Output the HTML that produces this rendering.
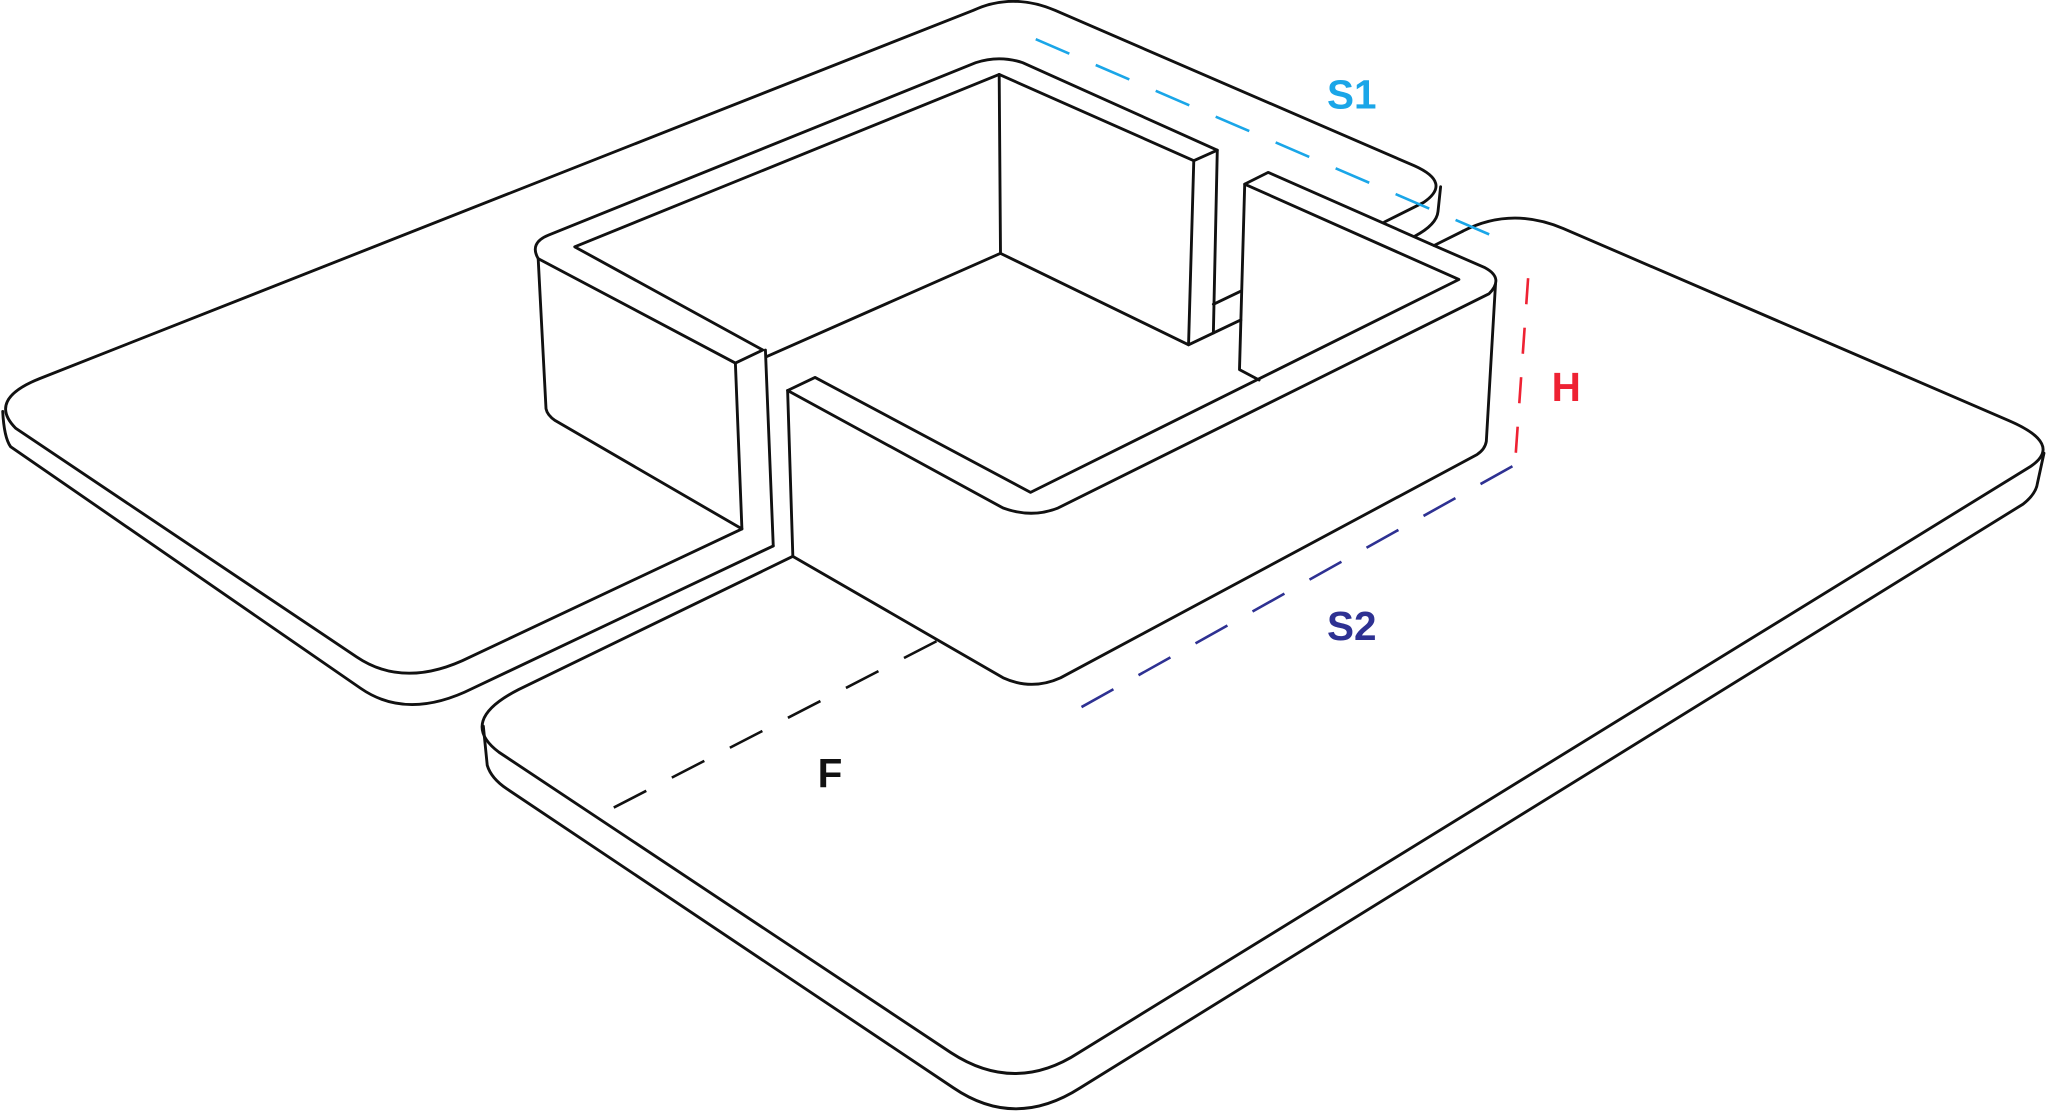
<!DOCTYPE html>
<html><head><meta charset="utf-8"><style>
html,body{margin:0;padding:0;background:#fff;width:2048px;height:1114px;overflow:hidden}
svg{display:block}
text{font-family:"Liberation Sans",sans-serif;font-weight:bold;font-size:31px}
</style></head><body>
<svg width="2048" height="1114" viewBox="0 0 1568 853" xmlns="http://www.w3.org/2000/svg">
<g fill="none" stroke="#111" stroke-width="2.2" stroke-linejoin="round" stroke-linecap="round">
<!-- left slab -->
<path d="M1060,170 L1090,155 Q1112,140 1083,127 L808,8 Q775,-6 745,8 L30,290 Q-10,306 12,328 L273,503 Q310,528 360,503 L568,405"/>
<path d="M2,315 Q3,335 8,342 L276,527 Q312,552 362,527 L592,418"/>
<path d="M1083,181 Q1100,172 1101,162 L1103,143"/>
<path d="M1098,188 L1120,177"/>
<!-- inner rim -->
<path d="M1098,188 L1137,205 Q1152,213 1140,225 L810,389 Q790,397 768,389 L603,299 L624,289 L789,377 L1117,214 L953,141 L971,132 L1098,188"/>
<path d="M563,278 L412,198 Q405,186 420,180 L747,48 Q765,42 783,48 L932,115 L914,123 L765,57 L440,189 L584,268 L563,278"/>
<path d="M765,57 L766,194 L587,273"/>
<path d="M766,194 L910,264 L914,123"/>
<path d="M932,115 L929,255"/>
<path d="M910,264 L950,245"/>
<path d="M929,233 L950,223"/>
<path d="M953,141 L949,283 L964,291"/>
<path d="M412,198 L418,313 Q419,318 425,322 L568,405 L563,278"/>
<path d="M586,268 L592,418"/>
<!-- right block -->
<path d="M1145,218 L1138,338 Q1137,344 1131,348 L812,519 Q790,529 768,519 L607,426 L603,299"/>
<!-- right slab -->
<path d="M607,426 L397,528 Q350,552 382,576 L728,806 Q777,838 826,806 L1555,357 Q1580,340 1538,322 L1197,175 Q1157,158 1120,177"/>
<path d="M370,556 L373,586 Q376,596 388,604 L730,833 Q777,865 827,833 L1549,386 Q1559,378 1560,370 L1565,347"/>
</g>
<g fill="none" stroke-width="2" stroke-dasharray="28,22">
<path d="M793,30 L1160,188" stroke="#1aa6e8"/>
<path d="M1170,213 L1160,355" stroke="#ee2233" stroke-dasharray="20,18"/>
<path d="M1158,357 L818,547" stroke="#2e3192"/>
<path d="M717,491 L457,625" stroke="#111"/>
</g>
<text x="1016" y="83" fill="#1aa6e8">S1</text>
<text x="1188" y="307" fill="#ee2233">H</text>
<text x="1016" y="490" fill="#2e3192">S2</text>
<text x="626" y="603" fill="#111">F</text>
</svg>
</body></html>
